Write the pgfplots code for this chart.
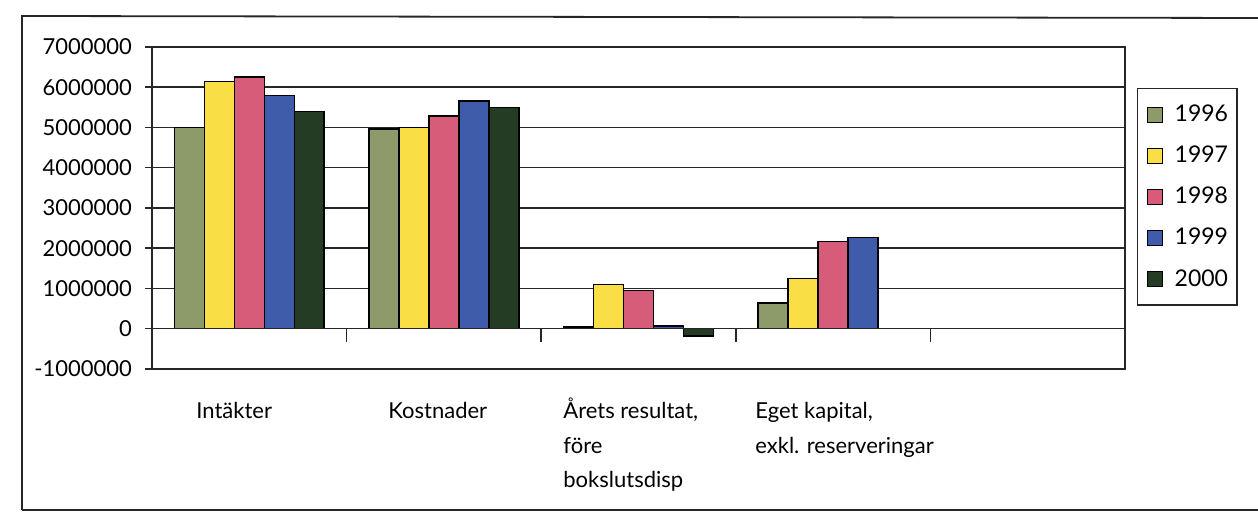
\documentclass[border=0pt]{standalone}
\usepackage{fontspec}
\setmainfont{Lato}
\usepackage{pgfplots}
\pgfplotsset{compat=1.18}
\definecolor{cA}{RGB}{140,155,105}
\definecolor{cB}{RGB}{250,222,70}
\definecolor{cC}{RGB}{214,92,122}
\definecolor{cD}{RGB}{62,92,170}
\definecolor{cE}{RGB}{36,60,36}
\begin{document}
\begin{tikzpicture}[x=0.5pt,y=0.5pt]
\useasboundingbox (0,0) rectangle (1258,513);
\draw[line width=0.9pt, black!85] (22,3) -- (22,497) -- (1258,495);
\draw[line width=0.9pt, black!85] (22,3) -- (1258,3);
\begin{axis}[
  at={(76pt,72pt)}, anchor=south west,
  scale only axis, width=486.5pt, height=161pt,
  xmin=-0.5, xmax=4.5, ymin=-1000000, ymax=7000000,
  ytick={-1000000,0,1000000,2000000,3000000,4000000,5000000,6000000,7000000},
  xtick=\empty, ytick pos=left,
  scaled y ticks=false,
  ymajorgrids, grid style={black!85, line width=0.75pt},
  axis line style={black!85, line width=0.75pt},
  tick align=outside, major tick length=3.5pt,
  tick style={black!85, line width=0.75pt},
  /pgf/number format/assume math mode=true,
  yticklabel style={/pgf/number format/fixed, /pgf/number format/1000 sep={}, font=\fontsize{11}{13}\selectfont, xshift=-3pt},
  ybar=0pt, bar width=0.154,
  every axis plot/.append style={draw=black, line width=0.75pt},
  legend style={at={(axis description cs:1.0123,0.8727)}, anchor=north west,
    draw=black!85, line width=0.75pt, font=\fontsize{11.5}{13}\selectfont,
    inner xsep=4.5pt, inner ysep=8pt,
    nodes={inner sep=0pt, anchor=west},
    /tikz/column sep=6pt, /tikz/row sep=10.75pt},
  legend cell align=left,
  legend image code/.code={\draw[#1, line width=0.5pt] (0pt,-3.75pt) rectangle (7.5pt,3.75pt);},
]
\addplot[fill=cA] coordinates {(0,5000000) (1,4960000) (2,40000) (3,640000)};
\addplot[fill=cB] coordinates {(0,6140000) (1,5000000) (2,1100000) (3,1250000)};
\addplot[fill=cC] coordinates {(0,6250000) (1,5290000) (2,950000) (3,2170000)};
\addplot[fill=cD] coordinates {(0,5790000) (1,5660000) (2,70000) (3,2270000)};
\addplot[fill=cE] coordinates {(0,5400000) (1,5500000) (2,-180000)};
\legend{1996,1997,1998,1999,2000}
\draw[black!85, line width=0.75pt] (axis cs:-0.5,0) -- (axis cs:4.5,0);
\pgfplotsinvokeforeach{0.5,1.5,2.5,3.5}{\draw[black!85, line width=0.75pt] (axis cs:#1,0) -- ++(0pt,-6.5pt);}
\end{axis}
\begin{scope}[every node/.style={anchor=base west, inner sep=0pt, font=\fontsize{11}{13}\selectfont}]
\node at (196,94) {Intäkter};
\node at (388,94) {Kostnader};
\node at (563,94) {Årets resultat,};
\node at (563,59) {före};
\node at (563,25) {bokslutsdisp};
\node at (755,94) {Eget kapital,};
\node at (755,59) {exkl. reserveringar};
\end{scope}
\end{tikzpicture}
\end{document}
